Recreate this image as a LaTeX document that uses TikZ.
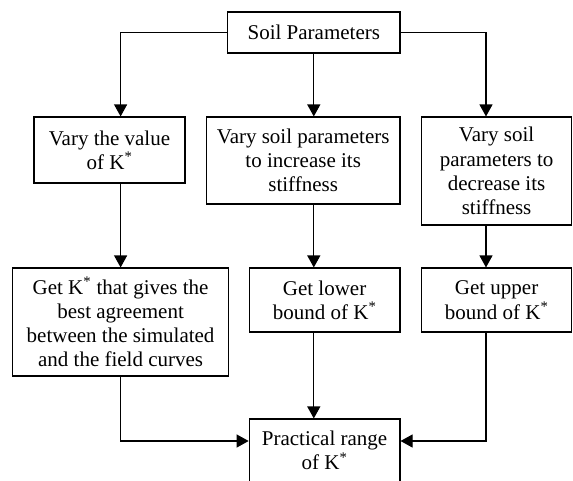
\documentclass[tikz,border=0pt]{standalone}
\usepackage{fontspec}
\setmainfont{Liberation Serif}
\usepackage{tikz}
\usetikzlibrary{arrows.meta,calc}
\newcommand{\lw}{1.1pt}
\newcommand{\Ks}{K\textsuperscript{*}}
\tikzset{
  blk/.style={draw, rectangle, line width=\lw, inner sep=0pt, align=center,
    font=\fontsize{21}{24.3}\selectfont},
  arr/.style={line width=\lw, -{Triangle[length=12pt,width=13pt]}}
}

\begin{document}
\begin{tikzpicture}[x=1pt,y=-1pt]
\useasboundingbox (0,0) rectangle (573,480);
\node[blk, minimum width=172.4, minimum height=41] (1) at (313.8, 32.5) {Soil Parameters};
\node[blk, minimum width=151, minimum height=66] (2) at (109.5, 150) {Vary the value\\ of \Ks};
\node[blk, minimum width=193.6, minimum height=87] (3) at (303.2, 160.5) {Vary soil parameters\\ to increase its\\ stiffness};
\node[blk, minimum width=150.5, minimum height=108] (4) at (496.6, 171) {Vary soil\\ parameters to\\ decrease its\\ stiffness};
\node[blk, minimum width=215.6, minimum height=108] (5) at (120.6, 322) {Get \Ks{} that gives the\\ best agreement\\ between the simulated\\ and the field curves};
\node[blk, minimum width=150.8, minimum height=64] (6) at (324.6, 300) {Get lower\\ bound of \Ks};
\node[blk, minimum width=150.5, minimum height=64] (7) at (496.6, 300) {Get upper\\ bound of \Ks};
\node[blk, minimum width=150.8, minimum height=63] (8) at (324.6, 450.5) {Practical range\\ of \Ks};
%helper coordinates
\coordinate (c3) at (486, 0);
\coordinate (h) at (0, 441);
%top row
\draw[arr] (1.west) -| (5.north |- 2.north);
\draw[arr] (1.south) -- (1.south |- 3.north);
\draw[arr] (1.east) -| (c3 |- 4.north);
%middle row
\draw[arr] (5.north |- 2.south) -- (5.north);
\draw[arr] (1.south |- 3.south) -- (1.south |- 6.north);
\draw[arr] (c3 |- 4.south) -- (c3 |- 7.north);
%bottom row
\draw[arr] (5.south) |- (8.west |- h);
\draw[arr] (1.south |- 6.south) -- (1.south |- 8.north);
\draw[arr] (c3 |- 7.south) |- (8.east |- h);
\end{tikzpicture}
\end{document}
